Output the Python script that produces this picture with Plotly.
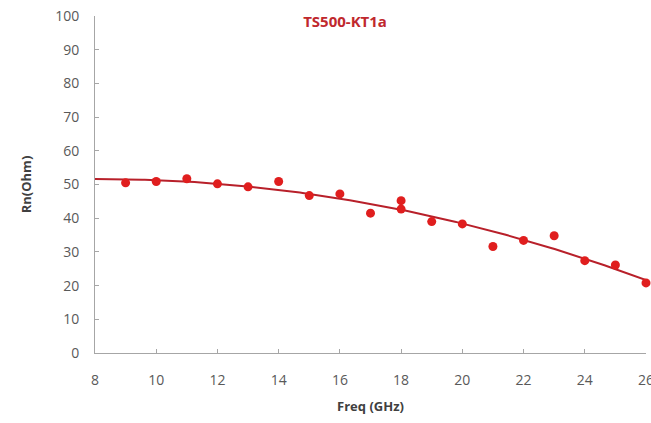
import numpy as np
import plotly.graph_objects as go

freq = [9, 10, 11, 12, 13, 14, 15, 16, 17, 18, 18, 19, 20, 21, 22, 23, 24, 25, 26]
rn = [50.5, 50.9, 51.7, 50.2, 49.3, 50.9, 46.7, 47.2, 41.5, 45.2, 42.7, 39.0, 38.3, 31.6, 33.4, 34.8, 27.4, 26.1, 20.8]
x_ticks = [8, 10, 12, 14, 16, 18, 20, 22, 24, 26]
y_ticks = [0, 10, 20, 30, 40, 50, 60, 70, 80, 90, 100]
title_text = "TS500-KT1a"

coef = np.polyfit(freq, rn, 2)
xf = np.linspace(8, 26, 200)
yf = np.polyval(coef, xf)

fig = go.Figure()
fig.add_trace(go.Scatter(x=xf, y=yf, mode="lines",
                         line=dict(color="#B8202A", width=2), hoverinfo="skip"))
fig.add_trace(go.Scatter(x=freq, y=rn, mode="markers", cliponaxis=False,
                         marker=dict(color="#E01E1E", size=9)))

axis_font = dict(family="Open Sans, Liberation Sans, sans-serif", size=14, color="#595959")
fig.update_layout(
    width=651, height=423,
    margin=dict(l=95, r=5, t=16, b=70, autoexpand=False),
    paper_bgcolor="white", plot_bgcolor="white",
    showlegend=False,
    title=dict(text="<b>" + title_text + "</b>", x=0.53, xanchor="center",
               y=0.948, yanchor="middle",
               font=dict(family="Open Sans, Liberation Sans, sans-serif", size=15, color="#C0282D")),
)
fig.update_xaxes(range=[8, 26], tickvals=x_ticks, showline=True, linecolor="#A6A6A6",
                 linewidth=1, showgrid=False, zeroline=False, ticks="inside", ticklen=4,
                 tickcolor="#A6A6A6", tickfont=axis_font, ticklabelstandoff=14,
                 ticklabeloverflow="allow", automargin=False,
                 title=dict(text="<b>Freq (GHz)</b>", standoff=14,
                            font=dict(family="Open Sans, Liberation Sans, sans-serif", size=13, color="#404040")))
fig.update_yaxes(range=[0, 100], tickvals=y_ticks, showline=True, linecolor="#A6A6A6",
                 linewidth=1, showgrid=False, zeroline=False, ticks="inside", ticklen=4,
                 tickcolor="#A6A6A6", tickfont=axis_font, ticklabelstandoff=12,
                 automargin=False,
                 title=dict(text="<b>Rn(Ohm)</b>", standoff=20,
                            font=dict(family="Open Sans, Liberation Sans, sans-serif", size=13, color="#404040")))

fig.write_html("out.html")
